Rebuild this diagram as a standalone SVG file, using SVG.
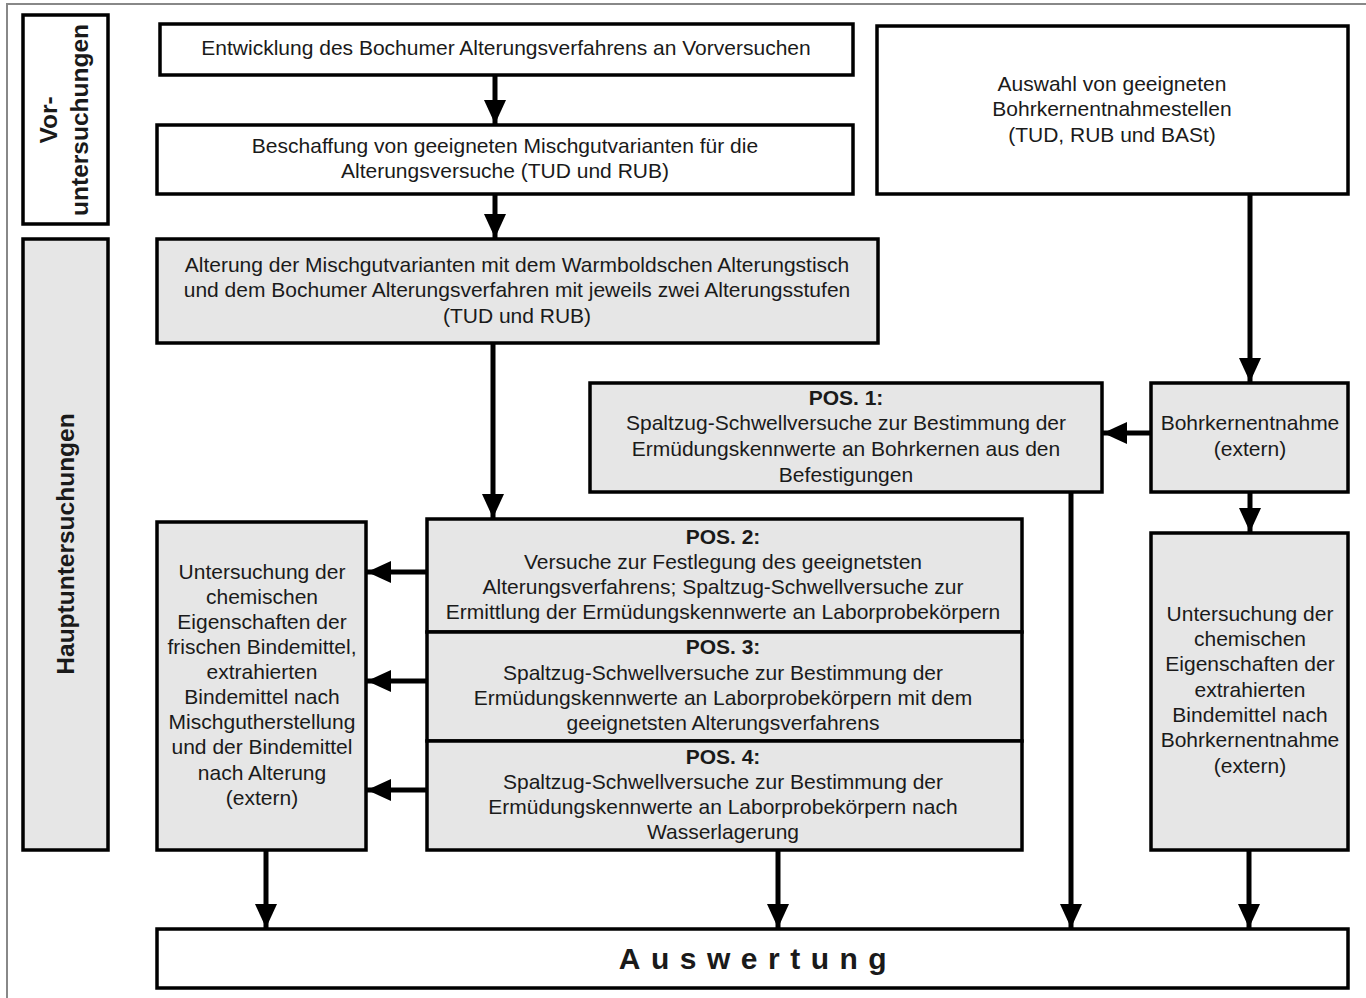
<svg xmlns="http://www.w3.org/2000/svg" width="1366" height="998" viewBox="0 0 1366 998">
<style>
.box{stroke:#000;stroke-width:3.5}
.w{fill:#fff}
.g{fill:#e6e6e6}
text{font-family:"Liberation Sans",Arial,sans-serif;font-size:21px;fill:#1a1a1a;text-anchor:middle}
.b{font-weight:bold}
.v{font-weight:bold;font-size:24.5px}
.c{stroke:#000;stroke-width:5;fill:none}
</style>
<defs>
<marker id="ah" markerUnits="userSpaceOnUse" markerWidth="24" markerHeight="24" viewBox="0 0 24 24" refX="24" refY="12" orient="auto">
<path d="M0,1 L24,12 L0,23 Z" fill="#000"/>
</marker>
</defs>
<rect x="0" y="0" width="1366" height="998" fill="#fff"/>
<path d="M7,998 V4 H1366" stroke="#888" stroke-width="2" fill="none"/>

<g id="vor">
<rect class="box w" x="23" y="15" width="85" height="209"/>
<text class="v" transform="translate(57,120) rotate(-90)">Vor-</text>
<text class="v" transform="translate(88,120) rotate(-90)">untersuchungen</text>
</g>
<g id="haupt">
<rect class="box g" x="23" y="239" width="85" height="611"/>
<text class="v" transform="translate(74,544) rotate(-90)">Hauptuntersuchungen</text>
</g>

<g id="n1">
<rect class="box w" x="160" y="24" width="693" height="51"/>
<text x="506" y="55">Entwicklung des Bochumer Alterungsverfahrens an Vorversuchen</text>
</g>
<g id="n2">
<rect class="box w" x="157" y="125" width="696" height="69"/>
<text x="505" y="153">Beschaffung von geeigneten Mischgutvarianten für die</text>
<text x="505" y="178">Alterungsversuche (TUD und RUB)</text>
</g>
<g id="n3">
<rect class="box w" x="877" y="26" width="471" height="168"/>
<text x="1112" y="91">Auswahl von geeigneten</text>
<text x="1112" y="116">Bohrkernentnahmestellen</text>
<text x="1112" y="142">(TUD, RUB und BASt)</text>
</g>
<g id="n4">
<rect class="box g" x="157" y="239" width="721" height="104"/>
<text x="517" y="272">Alterung der Mischgutvarianten mit dem Warmboldschen Alterungstisch</text>
<text x="517" y="297">und dem Bochumer Alterungsverfahren mit jeweils zwei Alterungsstufen</text>
<text x="517" y="323">(TUD und RUB)</text>
</g>
<g id="pos1">
<rect class="box g" x="590" y="383" width="512" height="109"/>
<text class="b" x="846" y="405">POS. 1:</text>
<text x="846" y="430">Spaltzug-Schwellversuche zur Bestimmung der</text>
<text x="846" y="456">Ermüdungskennwerte an Bohrkernen aus den</text>
<text x="846" y="482">Befestigungen</text>
</g>
<g id="bohr">
<rect class="box g" x="1151" y="383" width="197" height="109"/>
<text x="1250" y="430">Bohrkernentnahme</text>
<text x="1250" y="456">(extern)</text>
</g>
<g id="left">
<rect class="box g" x="157" y="522" width="209" height="328"/>
<text x="262" y="579">Untersuchung der</text>
<text x="262" y="604">chemischen</text>
<text x="262" y="629">Eigenschaften der</text>
<text x="262" y="654">frischen Bindemittel,</text>
<text x="262" y="679">extrahierten</text>
<text x="262" y="704">Bindemittel nach</text>
<text x="262" y="729">Mischgutherstellung</text>
<text x="262" y="754">und der Bindemittel</text>
<text x="262" y="780">nach Alterung</text>
<text x="262" y="805">(extern)</text>
</g>
<g id="pos2">
<rect class="box g" x="427" y="519" width="595" height="113"/>
<text class="b" x="723" y="544">POS. 2:</text>
<text x="723" y="569">Versuche zur Festlegung des geeignetsten</text>
<text x="723" y="594">Alterungsverfahrens; Spaltzug-Schwellversuche zur</text>
<text x="723" y="619">Ermittlung der Ermüdungskennwerte an Laborprobekörpern</text>
</g>
<g id="pos3">
<rect class="box g" x="427" y="632" width="595" height="109"/>
<text class="b" x="723" y="654">POS. 3:</text>
<text x="723" y="680">Spaltzug-Schwellversuche zur Bestimmung der</text>
<text x="723" y="705">Ermüdungskennwerte an Laborprobekörpern mit dem</text>
<text x="723" y="730">geeignetsten Alterungsverfahrens</text>
</g>
<g id="pos4">
<rect class="box g" x="427" y="741" width="595" height="109"/>
<text class="b" x="723" y="764">POS. 4:</text>
<text x="723" y="789">Spaltzug-Schwellversuche zur Bestimmung der</text>
<text x="723" y="814">Ermüdungskennwerte an Laborprobekörpern nach</text>
<text x="723" y="839">Wasserlagerung</text>
</g>
<g id="right">
<rect class="box g" x="1151" y="533" width="197" height="317"/>
<text x="1250" y="621">Untersuchung der</text>
<text x="1250" y="646">chemischen</text>
<text x="1250" y="671">Eigenschaften der</text>
<text x="1250" y="697">extrahierten</text>
<text x="1250" y="722">Bindemittel nach</text>
<text x="1250" y="747">Bohrkernentnahme</text>
<text x="1250" y="773">(extern)</text>
</g>
<g id="auswertung">
<rect class="box w" x="157" y="929" width="1191" height="59"/>
<text class="b" x="758" y="969" style="font-size:30px;letter-spacing:10.5px">Auswertung</text>
</g>

<g id="connectors">
<line class="c" x1="495" y1="75" x2="495" y2="124" marker-end="url(#ah)"/>
<line class="c" x1="495" y1="194" x2="495" y2="238" marker-end="url(#ah)"/>
<line class="c" x1="493" y1="343" x2="493" y2="518" marker-end="url(#ah)"/>
<line class="c" x1="1250" y1="194" x2="1250" y2="382" marker-end="url(#ah)"/>
<line class="c" x1="1151" y1="433" x2="1103" y2="433" marker-end="url(#ah)"/>
<line class="c" x1="1250" y1="492" x2="1250" y2="532" marker-end="url(#ah)"/>
<line class="c" x1="427" y1="572" x2="367" y2="572" marker-end="url(#ah)"/>
<line class="c" x1="427" y1="681" x2="367" y2="681" marker-end="url(#ah)"/>
<line class="c" x1="427" y1="790" x2="367" y2="790" marker-end="url(#ah)"/>
<line class="c" x1="266" y1="850" x2="266" y2="928" marker-end="url(#ah)"/>
<line class="c" x1="778" y1="850" x2="778" y2="928" marker-end="url(#ah)"/>
<line class="c" x1="1071" y1="492" x2="1071" y2="928" marker-end="url(#ah)"/>
<line class="c" x1="1249" y1="850" x2="1249" y2="928" marker-end="url(#ah)"/>
</g>
</svg>
